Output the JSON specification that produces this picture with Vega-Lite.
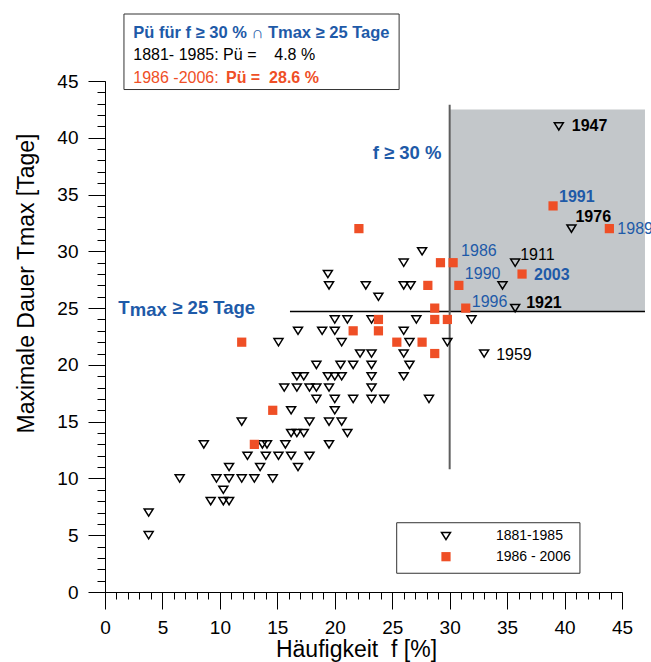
{
  "$schema": "https://vega.github.io/schema/vega-lite/v6.json",
  "width": 517,
  "height": 511,
  "autosize": {"type": "none"},
  "padding": {"left": 105, "top": 81, "right": 29, "bottom": 70},
  "background": "white",
  "config": {
    "view": {"stroke": null},
    "font": "Liberation Sans",
    "axis": {"grid": false, "labelFont": "Liberation Sans", "titleFont": "Liberation Sans", "domainColor": "black", "tickColor": "black", "labelColor": "black", "titleColor": "black"},
    "text": {"font": "Liberation Sans"}
  },
  "datasets": {
    "points": [
      {"f": 3.8, "t": 5, "period": "1881-1985"},
      {"f": 3.8, "t": 7, "period": "1881-1985"},
      {"f": 9.2, "t": 8, "period": "1881-1985"},
      {"f": 10.3, "t": 8, "period": "1881-1985"},
      {"f": 10.8, "t": 8, "period": "1881-1985"},
      {"f": 10.3, "t": 9, "period": "1881-1985"},
      {"f": 6.5, "t": 10, "period": "1881-1985"},
      {"f": 9.7, "t": 10, "period": "1881-1985"},
      {"f": 10.8, "t": 10, "period": "1881-1985"},
      {"f": 11.9, "t": 10, "period": "1881-1985"},
      {"f": 13.0, "t": 10, "period": "1881-1985"},
      {"f": 14.6, "t": 10, "period": "1881-1985"},
      {"f": 10.8, "t": 11, "period": "1881-1985"},
      {"f": 13.5, "t": 11, "period": "1881-1985"},
      {"f": 16.8, "t": 11, "period": "1881-1985"},
      {"f": 12.4, "t": 12, "period": "1881-1985"},
      {"f": 14.0, "t": 12, "period": "1881-1985"},
      {"f": 15.1, "t": 12, "period": "1881-1985"},
      {"f": 16.2, "t": 12, "period": "1881-1985"},
      {"f": 17.8, "t": 12, "period": "1881-1985"},
      {"f": 8.6, "t": 13, "period": "1881-1985"},
      {"f": 13.7, "t": 13, "period": "1881-1985"},
      {"f": 14.1, "t": 13, "period": "1881-1985"},
      {"f": 15.7, "t": 13, "period": "1881-1985"},
      {"f": 19.5, "t": 13, "period": "1881-1985"},
      {"f": 16.2, "t": 14, "period": "1881-1985"},
      {"f": 16.7, "t": 14, "period": "1881-1985"},
      {"f": 17.3, "t": 14, "period": "1881-1985"},
      {"f": 21.1, "t": 14, "period": "1881-1985"},
      {"f": 11.9, "t": 15, "period": "1881-1985"},
      {"f": 17.8, "t": 15, "period": "1881-1985"},
      {"f": 19.5, "t": 15, "period": "1881-1985"},
      {"f": 20.6, "t": 15, "period": "1881-1985"},
      {"f": 16.2, "t": 16, "period": "1881-1985"},
      {"f": 20.0, "t": 16, "period": "1881-1985"},
      {"f": 18.4, "t": 17, "period": "1881-1985"},
      {"f": 20.0, "t": 17, "period": "1881-1985"},
      {"f": 21.6, "t": 17, "period": "1881-1985"},
      {"f": 23.2, "t": 17, "period": "1881-1985"},
      {"f": 24.3, "t": 17, "period": "1881-1985"},
      {"f": 28.2, "t": 17, "period": "1881-1985"},
      {"f": 15.6, "t": 18, "period": "1881-1985"},
      {"f": 16.7, "t": 18, "period": "1881-1985"},
      {"f": 17.8, "t": 18, "period": "1881-1985"},
      {"f": 18.4, "t": 18, "period": "1881-1985"},
      {"f": 19.5, "t": 18, "period": "1881-1985"},
      {"f": 23.2, "t": 18, "period": "1881-1985"},
      {"f": 16.7, "t": 19, "period": "1881-1985"},
      {"f": 17.3, "t": 19, "period": "1881-1985"},
      {"f": 19.4, "t": 19, "period": "1881-1985"},
      {"f": 20.0, "t": 19, "period": "1881-1985"},
      {"f": 20.6, "t": 19, "period": "1881-1985"},
      {"f": 23.2, "t": 19, "period": "1881-1985"},
      {"f": 26.0, "t": 19, "period": "1881-1985"},
      {"f": 18.4, "t": 20, "period": "1881-1985"},
      {"f": 20.5, "t": 20, "period": "1881-1985"},
      {"f": 21.6, "t": 20, "period": "1881-1985"},
      {"f": 23.2, "t": 20, "period": "1881-1985"},
      {"f": 26.5, "t": 20, "period": "1881-1985"},
      {"f": 22.2, "t": 21, "period": "1881-1985"},
      {"f": 23.2, "t": 21, "period": "1881-1985"},
      {"f": 26.0, "t": 21, "period": "1881-1985"},
      {"f": 33.0, "t": 21, "period": "1881-1985", "year": "1959"},
      {"f": 15.1, "t": 22, "period": "1881-1985"},
      {"f": 20.6, "t": 22, "period": "1881-1985"},
      {"f": 26.5, "t": 22, "period": "1881-1985"},
      {"f": 29.8, "t": 22, "period": "1881-1985"},
      {"f": 16.8, "t": 23, "period": "1881-1985"},
      {"f": 18.9, "t": 23, "period": "1881-1985"},
      {"f": 20.0, "t": 23, "period": "1881-1985"},
      {"f": 26.0, "t": 23, "period": "1881-1985"},
      {"f": 20.0, "t": 24, "period": "1881-1985"},
      {"f": 21.1, "t": 24, "period": "1881-1985"},
      {"f": 23.2, "t": 24, "period": "1881-1985"},
      {"f": 27.1, "t": 24, "period": "1881-1985"},
      {"f": 31.9, "t": 24, "period": "1881-1985"},
      {"f": 35.7, "t": 25, "period": "1881-1985", "year": "1921"},
      {"f": 23.8, "t": 26, "period": "1881-1985"},
      {"f": 19.5, "t": 27, "period": "1881-1985"},
      {"f": 22.7, "t": 27, "period": "1881-1985"},
      {"f": 26.0, "t": 27, "period": "1881-1985"},
      {"f": 26.6, "t": 27, "period": "1881-1985"},
      {"f": 34.6, "t": 27, "period": "1881-1985"},
      {"f": 19.4, "t": 28, "period": "1881-1985"},
      {"f": 26.0, "t": 29, "period": "1881-1985"},
      {"f": 35.7, "t": 29, "period": "1881-1985", "year": "1911"},
      {"f": 27.6, "t": 30, "period": "1881-1985"},
      {"f": 40.6, "t": 32, "period": "1881-1985", "year": "1976"},
      {"f": 39.5, "t": 41, "period": "1881-1985", "year": "1947"},
      {"f": 13.0, "t": 13, "period": "1986-2006"},
      {"f": 14.6, "t": 16, "period": "1986-2006"},
      {"f": 11.9, "t": 22, "period": "1986-2006"},
      {"f": 25.4, "t": 22, "period": "1986-2006"},
      {"f": 27.6, "t": 22, "period": "1986-2006"},
      {"f": 28.7, "t": 21, "period": "1986-2006"},
      {"f": 21.6, "t": 23, "period": "1986-2006"},
      {"f": 23.8, "t": 23, "period": "1986-2006"},
      {"f": 23.8, "t": 24, "period": "1986-2006"},
      {"f": 28.7, "t": 24, "period": "1986-2006"},
      {"f": 29.8, "t": 24, "period": "1986-2006"},
      {"f": 28.7, "t": 25, "period": "1986-2006"},
      {"f": 31.4, "t": 25, "period": "1986-2006", "year": "1996"},
      {"f": 28.1, "t": 27, "period": "1986-2006"},
      {"f": 30.8, "t": 27, "period": "1986-2006", "year": "1990"},
      {"f": 36.3, "t": 28, "period": "1986-2006", "year": "2003"},
      {"f": 29.2, "t": 29, "period": "1986-2006"},
      {"f": 30.3, "t": 29, "period": "1986-2006", "year": "1986"},
      {"f": 22.1, "t": 32, "period": "1986-2006"},
      {"f": 43.9, "t": 32, "period": "1986-2006", "year": "1989"},
      {"f": 39.0, "t": 34, "period": "1986-2006", "year": "1991"}
    ]
  },
  "layer": [
    {
      "data": {"values": [{}]},
      "mark": {"type": "rect", "color": "#c3c7ca"},
      "encoding": {
        "x": {"datum": 30, "type": "quantitative", "scale": {"domain": [0, 45], "nice": false}, "axis": null},
        "x2": {"datum": 47},
        "y": {"datum": 24.7, "type": "quantitative", "scale": {"domain": [0, 45], "nice": false}, "axis": null},
        "y2": {"datum": 42.5}
      }
    },
    {
      "data": {"values": [{}]},
      "mark": {"type": "rule", "color": "black", "strokeWidth": 1.5},
      "encoding": {
        "x": {"datum": 16.1, "type": "quantitative", "scale": {"domain": [0, 45], "nice": false}, "axis": null},
        "x2": {"datum": 47},
        "y": {"datum": 24.7, "type": "quantitative", "scale": {"domain": [0, 45], "nice": false}, "axis": null}
      }
    },
    {
      "data": {"values": [{}]},
      "mark": {"type": "rule", "color": "#5f5f5f", "strokeWidth": 2},
      "encoding": {
        "x": {"datum": 30, "type": "quantitative", "scale": {"domain": [0, 45], "nice": false}, "axis": null},
        "y": {"datum": 10.8, "type": "quantitative", "scale": {"domain": [0, 45], "nice": false}, "axis": null},
        "y2": {"datum": 42.9}
      }
    },
    {
      "data": {"name": "points"},
      "transform": [{"filter": "datum.period == '1881-1985'"}],
      "mark": {"type": "point", "shape": "M-1,-0.8L1,-0.8L0,0.8Z", "filled": false, "stroke": "black", "strokeWidth": 1.5, "size": 81, "opacity": 1},
      "encoding": {
        "x": {"field": "f", "type": "quantitative", "scale": {"domain": [0, 45], "nice": false},
          "axis": {"orient": "bottom", "values": [0, 5, 10, 15, 20, 25, 30, 35, 40, 45], "tickSize": 17, "labelPadding": 9, "labelFontSize": 19, "labelFlush": false, "labelOverlap": false, "title": "Häufigkeit\u00a0\u00a0f [%]", "titleFontSize": 23, "titleFontWeight": "normal", "titleX": 251, "titleY": 64, "titleBaseline": "alphabetic", "titleAlign": "center"}},
        "y": {"field": "t", "type": "quantitative", "scale": {"domain": [0, 45], "nice": false},
          "axis": {"orient": "left", "values": [0, 5, 10, 15, 20, 25, 30, 35, 40, 45], "tickSize": 17, "labelPadding": 10, "labelFontSize": 19, "labelFlush": false, "labelOverlap": false, "title": "Maximale Dauer Tmax [Tage]", "titleFontSize": 23, "titleFontWeight": "normal", "titleAngle": 270, "titleX": -72, "titleY": 202, "titleBaseline": "alphabetic", "titleAlign": "center"}}
      }
    },
    {
      "data": {"name": "points"},
      "transform": [{"filter": "datum.period == '1986-2006'"}],
      "mark": {"type": "square", "color": "#ef4f26", "size": 85, "opacity": 1},
      "encoding": {
        "x": {"field": "f", "type": "quantitative", "scale": {"domain": [0, 45], "nice": false},
          "axis": {"orient": "bottom", "values": [0,1,2,3,4,5,6,7,8,9,10,11,12,13,14,15,16,17,18,19,20,21,22,23,24,25,26,27,28,29,30,31,32,33,34,35,36,37,38,39,40,41,42,43,44,45], "tickSize": 7, "labels": false, "domain": false, "title": null}},
        "y": {"field": "t", "type": "quantitative", "scale": {"domain": [0, 45], "nice": false},
          "axis": {"orient": "left", "values": [0,1,2,3,4,5,6,7,8,9,10,11,12,13,14,15,16,17,18,19,20,21,22,23,24,25,26,27,28,29,30,31,32,33,34,35,36,37,38,39,40,41,42,43,44,45], "tickSize": 8, "labels": false, "domain": false, "title": null}}
      }
    },
    {
      "data": {"name": "points"},
      "transform": [{"filter": "datum.year == '1947'"}],
      "mark": {"type": "text", "align": "left", "baseline": "middle", "dx": 13, "dy": 0, "fontSize": 16, "fontWeight": "bold", "color": "black"},
      "encoding": {"x": {"field": "f", "type": "quantitative", "scale": {"domain": [0, 45], "nice": false}, "axis": null}, "y": {"field": "t", "type": "quantitative", "scale": {"domain": [0, 45], "nice": false}, "axis": null}, "text": {"field": "year", "type": "nominal"}}
    },
    {
      "data": {"name": "points"},
      "transform": [{"filter": "datum.year == '1991'"}],
      "mark": {"type": "text", "align": "left", "baseline": "middle", "dx": 6, "dy": -9, "fontSize": 16, "fontWeight": "bold", "color": "#1e5aa8"},
      "encoding": {"x": {"field": "f", "type": "quantitative", "scale": {"domain": [0, 45], "nice": false}, "axis": null}, "y": {"field": "t", "type": "quantitative", "scale": {"domain": [0, 45], "nice": false}, "axis": null}, "text": {"field": "year", "type": "nominal"}}
    },
    {
      "data": {"name": "points"},
      "transform": [{"filter": "datum.year == '1976'"}],
      "mark": {"type": "text", "align": "left", "baseline": "middle", "dx": 4, "dy": -12, "fontSize": 16, "fontWeight": "bold", "color": "black"},
      "encoding": {"x": {"field": "f", "type": "quantitative", "scale": {"domain": [0, 45], "nice": false}, "axis": null}, "y": {"field": "t", "type": "quantitative", "scale": {"domain": [0, 45], "nice": false}, "axis": null}, "text": {"field": "year", "type": "nominal"}}
    },
    {
      "data": {"name": "points"},
      "transform": [{"filter": "datum.year == '1989'"}],
      "mark": {"type": "text", "align": "left", "baseline": "middle", "dx": 8, "dy": 0, "fontSize": 16, "color": "#1e5aa8"},
      "encoding": {"x": {"field": "f", "type": "quantitative", "scale": {"domain": [0, 45], "nice": false}, "axis": null}, "y": {"field": "t", "type": "quantitative", "scale": {"domain": [0, 45], "nice": false}, "axis": null}, "text": {"field": "year", "type": "nominal"}}
    },
    {
      "data": {"name": "points"},
      "transform": [{"filter": "datum.year == '1911'"}],
      "mark": {"type": "text", "align": "left", "baseline": "middle", "dx": 5, "dy": -8, "fontSize": 16, "color": "black"},
      "encoding": {"x": {"field": "f", "type": "quantitative", "scale": {"domain": [0, 45], "nice": false}, "axis": null}, "y": {"field": "t", "type": "quantitative", "scale": {"domain": [0, 45], "nice": false}, "axis": null}, "text": {"field": "year", "type": "nominal"}}
    },
    {
      "data": {"name": "points"},
      "transform": [{"filter": "datum.year == '2003'"}],
      "mark": {"type": "text", "align": "left", "baseline": "middle", "dx": 12, "dy": 1, "fontSize": 16, "fontWeight": "bold", "color": "#1e5aa8"},
      "encoding": {"x": {"field": "f", "type": "quantitative", "scale": {"domain": [0, 45], "nice": false}, "axis": null}, "y": {"field": "t", "type": "quantitative", "scale": {"domain": [0, 45], "nice": false}, "axis": null}, "text": {"field": "year", "type": "nominal"}}
    },
    {
      "data": {"name": "points"},
      "transform": [{"filter": "datum.year == '1986'"}],
      "mark": {"type": "text", "align": "left", "baseline": "middle", "dx": 8, "dy": -12, "fontSize": 16, "color": "#1e5aa8"},
      "encoding": {"x": {"field": "f", "type": "quantitative", "scale": {"domain": [0, 45], "nice": false}, "axis": null}, "y": {"field": "t", "type": "quantitative", "scale": {"domain": [0, 45], "nice": false}, "axis": null}, "text": {"field": "year", "type": "nominal"}}
    },
    {
      "data": {"name": "points"},
      "transform": [{"filter": "datum.year == '1990'"}],
      "mark": {"type": "text", "align": "left", "baseline": "middle", "dx": 6, "dy": -11, "fontSize": 16, "color": "#1e5aa8"},
      "encoding": {"x": {"field": "f", "type": "quantitative", "scale": {"domain": [0, 45], "nice": false}, "axis": null}, "y": {"field": "t", "type": "quantitative", "scale": {"domain": [0, 45], "nice": false}, "axis": null}, "text": {"field": "year", "type": "nominal"}}
    },
    {
      "data": {"name": "points"},
      "transform": [{"filter": "datum.year == '1996'"}],
      "mark": {"type": "text", "align": "left", "baseline": "middle", "dx": 6, "dy": -6, "fontSize": 16, "color": "#1e5aa8"},
      "encoding": {"x": {"field": "f", "type": "quantitative", "scale": {"domain": [0, 45], "nice": false}, "axis": null}, "y": {"field": "t", "type": "quantitative", "scale": {"domain": [0, 45], "nice": false}, "axis": null}, "text": {"field": "year", "type": "nominal"}}
    },
    {
      "data": {"name": "points"},
      "transform": [{"filter": "datum.year == '1921'"}],
      "mark": {"type": "text", "align": "left", "baseline": "middle", "dx": 11, "dy": -5, "fontSize": 16, "fontWeight": "bold", "color": "black"},
      "encoding": {"x": {"field": "f", "type": "quantitative", "scale": {"domain": [0, 45], "nice": false}, "axis": null}, "y": {"field": "t", "type": "quantitative", "scale": {"domain": [0, 45], "nice": false}, "axis": null}, "text": {"field": "year", "type": "nominal"}}
    },
    {
      "data": {"name": "points"},
      "transform": [{"filter": "datum.year == '1959'"}],
      "mark": {"type": "text", "align": "left", "baseline": "middle", "dx": 12, "dy": 1, "fontSize": 16, "color": "black"},
      "encoding": {"x": {"field": "f", "type": "quantitative", "scale": {"domain": [0, 45], "nice": false}, "axis": null}, "y": {"field": "t", "type": "quantitative", "scale": {"domain": [0, 45], "nice": false}, "axis": null}, "text": {"field": "year", "type": "nominal"}}
    },
    {
      "data": {"values": [{"label": "f ≥ 30 %"}]},
      "mark": {"type": "text", "align": "left", "baseline": "middle", "fontSize": 18.5, "fontWeight": "bold", "color": "#1e5aa8"},
      "encoding": {"x": {"datum": 23.3, "type": "quantitative", "scale": {"domain": [0, 45], "nice": false}, "axis": null}, "y": {"datum": 38.67, "type": "quantitative", "scale": {"domain": [0, 45], "nice": false}, "axis": null}, "text": {"field": "label"}}
    },
    {
      "data": {"values": [{"label": "T"}]},
      "mark": {"type": "text", "align": "left", "baseline": "middle", "fontSize": 18.5, "fontWeight": "bold", "color": "#1e5aa8"},
      "encoding": {"x": {"datum": 1.16, "type": "quantitative", "scale": {"domain": [0, 45], "nice": false}, "axis": null}, "y": {"datum": 25, "type": "quantitative", "scale": {"domain": [0, 45], "nice": false}, "axis": null}, "text": {"field": "label"}}
    },
    {
      "data": {"values": [{"label": "max"}]},
      "mark": {"type": "text", "align": "left", "baseline": "middle", "dx": 11.5, "dy": 2, "fontSize": 18.5, "fontWeight": "bold", "color": "#1e5aa8"},
      "encoding": {"x": {"datum": 1.16, "type": "quantitative", "scale": {"domain": [0, 45], "nice": false}, "axis": null}, "y": {"datum": 25, "type": "quantitative", "scale": {"domain": [0, 45], "nice": false}, "axis": null}, "text": {"field": "label"}}
    },
    {
      "data": {"values": [{"label": "≥ 25 Tage"}]},
      "mark": {"type": "text", "align": "left", "baseline": "middle", "dx": 54, "fontSize": 18.5, "fontWeight": "bold", "color": "#1e5aa8"},
      "encoding": {"x": {"datum": 1.16, "type": "quantitative", "scale": {"domain": [0, 45], "nice": false}, "axis": null}, "y": {"datum": 25, "type": "quantitative", "scale": {"domain": [0, 45], "nice": false}, "axis": null}, "text": {"field": "label"}}
    },
    {
      "data": {"values": [{}]},
      "mark": {"type": "rect", "fill": "white", "stroke": "#333333", "strokeWidth": 1},
      "encoding": {
        "x": {"datum": 1.65, "type": "quantitative", "scale": {"domain": [0, 45], "nice": false}, "axis": null},
        "x2": {"datum": 25.6},
        "y": {"datum": 44.25, "type": "quantitative", "scale": {"domain": [0, 45], "nice": false}, "axis": null},
        "y2": {"datum": 50.9}
      }
    },
    {
      "data": {"values": [{"label": "Pü für f ≥ 30 % ∩ Tmax ≥ 25 Tage"}]},
      "mark": {"type": "text", "align": "left", "baseline": "middle", "fontSize": 16.5, "fontWeight": "bold", "color": "#1e5aa8"},
      "encoding": {"x": {"datum": 2.46, "type": "quantitative", "scale": {"domain": [0, 45], "nice": false}, "axis": null}, "y": {"datum": 49.2, "type": "quantitative", "scale": {"domain": [0, 45], "nice": false}, "axis": null}, "text": {"field": "label"}}
    },
    {
      "data": {"values": [{"label": "1881- 1985: Pü =\u00a0\u00a0\u00a0 4.8 %"}]},
      "mark": {"type": "text", "align": "left", "baseline": "middle", "fontSize": 16, "color": "black"},
      "encoding": {"x": {"datum": 2.46, "type": "quantitative", "scale": {"domain": [0, 45], "nice": false}, "axis": null}, "y": {"datum": 47.3, "type": "quantitative", "scale": {"domain": [0, 45], "nice": false}, "axis": null}, "text": {"field": "label"}}
    },
    {
      "data": {"values": [{"label": "1986 -2006:"}]},
      "mark": {"type": "text", "align": "left", "baseline": "middle", "fontSize": 16, "color": "#ef4f26"},
      "encoding": {"x": {"datum": 2.46, "type": "quantitative", "scale": {"domain": [0, 45], "nice": false}, "axis": null}, "y": {"datum": 45.3, "type": "quantitative", "scale": {"domain": [0, 45], "nice": false}, "axis": null}, "text": {"field": "label"}}
    },
    {
      "data": {"values": [{"label": "Pü =\u00a0 28.6 %"}]},
      "mark": {"type": "text", "align": "left", "baseline": "middle", "fontSize": 16, "fontWeight": "bold", "color": "#ef4f26"},
      "encoding": {"x": {"datum": 10.53, "type": "quantitative", "scale": {"domain": [0, 45], "nice": false}, "axis": null}, "y": {"datum": 45.3, "type": "quantitative", "scale": {"domain": [0, 45], "nice": false}, "axis": null}, "text": {"field": "label"}}
    },
    {
      "data": {"values": [{}]},
      "mark": {"type": "rect", "fill": "white", "stroke": "#333333", "strokeWidth": 1},
      "encoding": {
        "x": {"datum": 25.39, "type": "quantitative", "scale": {"domain": [0, 45], "nice": false}, "axis": null},
        "x2": {"datum": 41.34},
        "y": {"datum": 1.65, "type": "quantitative", "scale": {"domain": [0, 45], "nice": false}, "axis": null},
        "y2": {"datum": 6.1}
      }
    },
    {
      "data": {"values": [{}]},
      "mark": {"type": "point", "shape": "M-1,-0.8L1,-0.8L0,0.8Z", "filled": false, "stroke": "black", "strokeWidth": 1.5, "size": 81, "opacity": 1},
      "encoding": {"x": {"datum": 29.68, "type": "quantitative", "scale": {"domain": [0, 45], "nice": false}, "axis": null}, "y": {"datum": 4.93, "type": "quantitative", "scale": {"domain": [0, 45], "nice": false}, "axis": null}}
    },
    {
      "data": {"values": [{}]},
      "mark": {"type": "square", "color": "#ef4f26", "size": 85, "opacity": 1},
      "encoding": {"x": {"datum": 29.68, "type": "quantitative", "scale": {"domain": [0, 45], "nice": false}, "axis": null}, "y": {"datum": 3.11, "type": "quantitative", "scale": {"domain": [0, 45], "nice": false}, "axis": null}}
    },
    {
      "data": {"values": [{"label": "1881-1985"}]},
      "mark": {"type": "text", "align": "left", "baseline": "middle", "fontSize": 14, "color": "black"},
      "encoding": {"x": {"datum": 34.03, "type": "quantitative", "scale": {"domain": [0, 45], "nice": false}, "axis": null}, "y": {"datum": 4.93, "type": "quantitative", "scale": {"domain": [0, 45], "nice": false}, "axis": null}, "text": {"field": "label"}}
    },
    {
      "data": {"values": [{"label": "1986 - 2006"}]},
      "mark": {"type": "text", "align": "left", "baseline": "middle", "fontSize": 14, "color": "black"},
      "encoding": {"x": {"datum": 34.03, "type": "quantitative", "scale": {"domain": [0, 45], "nice": false}, "axis": null}, "y": {"datum": 3.11, "type": "quantitative", "scale": {"domain": [0, 45], "nice": false}, "axis": null}, "text": {"field": "label"}}
    }
  ],
  "resolve": {"axis": {"x": "independent", "y": "independent"}}
}
